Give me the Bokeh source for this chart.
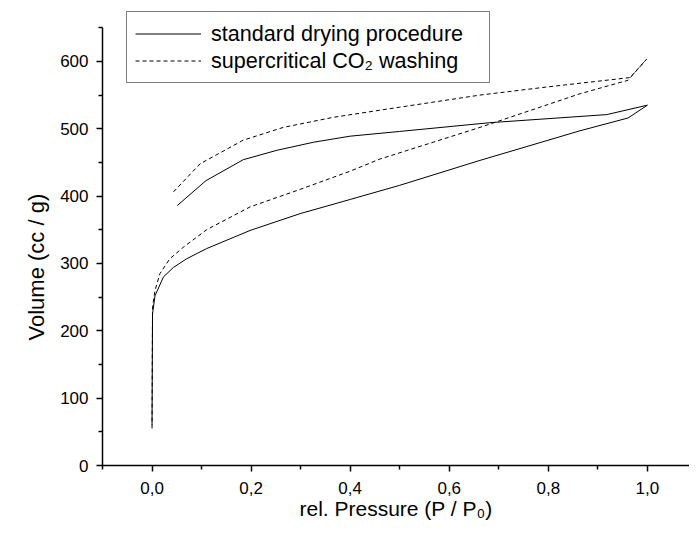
from bokeh.plotting import figure
from bokeh.models import Range1d, FixedTicker, CustomJSTickFormatter, Legend, LegendItem, Title
from bokeh.embed import file_html
from bokeh.resources import INLINE

# Standard drying procedure (adsorption then desorption branch)
std_x = [0.0, 0.0005, 0.001, 0.006, 0.023, 0.043, 0.070, 0.110, 0.198, 0.299, 0.40, 0.50,
         0.662, 0.864, 0.961, 1.0, 0.918, 0.682, 0.50, 0.40, 0.326, 0.252, 0.184, 0.109, 0.051]
std_y = [60, 150, 225, 252, 280, 294, 307, 322, 349, 374, 395, 416,
         453, 497, 516, 535, 521, 509, 496, 489, 480, 468, 454, 423, 386]

# Supercritical CO2 washing
sc_x = [0.0, 0.0005, 0.001, 0.006, 0.016, 0.036, 0.063, 0.110, 0.198, 0.299, 0.40, 0.46,
        0.662, 0.864, 0.961, 0.998, 0.965, 0.797, 0.662, 0.50, 0.366, 0.265, 0.184, 0.097, 0.043]
sc_y = [55, 150, 235, 260, 285, 307, 324, 350, 384, 410, 437, 455,
        502, 552, 572, 603, 576, 562, 550, 532, 517, 502, 483, 448, 406]

x_major = [0.0, 0.2, 0.4, 0.6, 0.8, 1.0]
x_minor = [-0.1, 0.1, 0.3, 0.5, 0.7, 0.9, 1.1]
y_major = [0, 100, 200, 300, 400, 500, 600]
y_minor = [50, 150, 250, 350, 450, 550, 650]

labels = ["standard drying procedure", "supercritical CO\u2082 washing"]
x_label = "rel. Pressure (P / P\u2080)"
y_label = "Volume (cc / g)"

FONT = "Liberation Sans"

p = figure(width=689, height=528, output_backend="svg", toolbar_location=None,
           x_range=Range1d(-0.1, 1.085), y_range=Range1d(0, 683),
           min_border_left=102, min_border_right=0, min_border_top=5, min_border_bottom=63)
p.xgrid.visible = False
p.ygrid.visible = False
p.outline_line_color = None
p.background_fill_color = "white"
p.border_fill_color = "white"

r1 = p.line(std_x, std_y, line_color="black", line_width=1)
r2 = p.line(sc_x, sc_y, line_color="black", line_width=1, line_dash="4 3")

p.xaxis.ticker = FixedTicker(ticks=x_major, minor_ticks=x_minor)
p.yaxis.ticker = FixedTicker(ticks=y_major, minor_ticks=y_minor)
p.xaxis.formatter = CustomJSTickFormatter(code="return tick.toFixed(1).replace('.', ',');")
p.yaxis.bounds = (0, 650)

for ax in (p.xaxis[0], p.yaxis[0]):
    ax.axis_line_width = 1.5
    ax.axis_line_color = "black"
    ax.major_tick_line_width = 1.5
    ax.minor_tick_line_width = 1.5
    ax.major_tick_line_color = "black"
    ax.minor_tick_line_color = "black"
    ax.major_tick_in = 0
    ax.major_tick_out = 6
    ax.minor_tick_in = 0
    ax.minor_tick_out = 4
    ax.major_label_text_font = FONT
    ax.major_label_text_font_size = "17px"
    ax.major_label_text_color = "black"
    ax.axis_label_text_font = FONT
    ax.axis_label_text_font_style = "normal"
    ax.axis_label_text_color = "black"

p.xaxis.axis_label = x_label
p.xaxis.axis_label_text_font_size = "21px"
p.xaxis.major_label_standoff = 10
p.yaxis.major_label_standoff = 8
p.xaxis.axis_label_standoff = 0

# y-axis title as a side-panel title, shifted from the frame bottom
ytitle = Title(text=y_label, align="left", offset=125, standoff=18,
               text_font=FONT, text_font_size="22px", text_font_style="normal",
               text_color="black")
p.add_layout(ytitle, "left")

legend = Legend(items=[LegendItem(label=labels[0], renderers=[r1]),
                       LegendItem(label=labels[1], renderers=[r2])],
                location=(24, 382), orientation="vertical")
legend.label_text_font = FONT
legend.label_text_font_size = "21.6px"
legend.label_text_color = "black"
legend.border_line_color = "black"
legend.border_line_width = 1
legend.background_fill_color = "white"
legend.background_fill_alpha = 1
legend.padding = 8
legend.spacing = 0
legend.margin = 0
legend.glyph_width = 66
legend.glyph_height = 27
legend.label_height = 27
legend.label_width = 270
legend.label_standoff = 10
p.add_layout(legend, "center")

open("out.html", "w").write(file_html(p, INLINE))
